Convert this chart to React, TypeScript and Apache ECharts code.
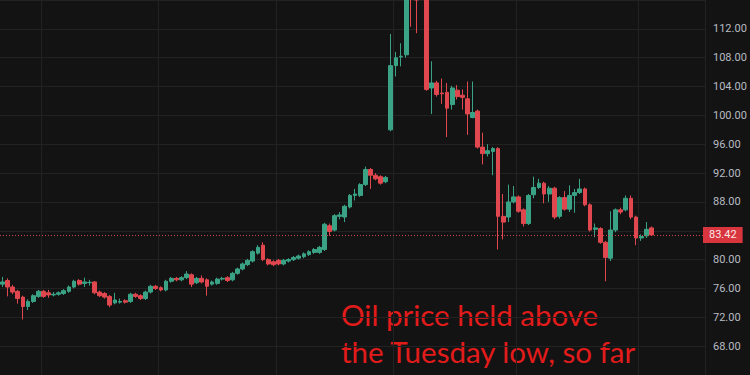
import { useEffect, useRef } from 'react';
import * as echarts from 'echarts';

// [open, close, low, high]
const ohlc: [number, number, number, number][] = [
  [76.6, 76.9, 76.2, 77.6], [77.1, 76.2, 74.9, 77.4], [76.2, 75.5, 75.2, 76.5], [75.6, 74.6, 73.9, 75.8],
  [74.8, 73.5, 71.7, 75.0], [73.5, 74.2, 73.0, 74.5], [74.2, 75.0, 74.0, 75.2], [74.9, 75.6, 74.7, 75.8],
  [75.6, 74.9, 74.7, 75.8], [75.4, 75.1, 74.7, 75.8], [75.1, 75.2, 74.9, 75.5], [75.2, 75.4, 75.0, 75.6],
  [75.3, 75.7, 75.1, 75.9], [75.6, 76.2, 75.4, 76.4], [76.2, 77.0, 76.0, 77.2], [77.1, 76.6, 76.4, 77.3],
  [76.7, 76.9, 76.2, 77.5], [76.8, 76.85, 76.4, 77.2], [76.9, 75.4, 75.2, 77.0], [75.5, 75.0, 74.8, 75.7],
  [75.3, 74.8, 74.6, 75.5], [74.9, 73.7, 73.4, 75.1], [74.0, 74.4, 73.8, 75.4], [74.1, 74.2, 73.9, 74.6],
  [74.3, 74.1, 73.9, 74.5],
  [74.2, 75.2, 74.0, 75.4], [75.2, 74.9, 74.7, 75.4], [75.0, 74.6, 74.4, 75.2], [74.6, 75.5, 74.4, 75.7],
  [75.5, 76.3, 75.3, 76.5], [76.3, 76.0, 75.8, 76.5], [76.1, 75.8, 75.6, 76.3], [75.8, 77.0, 75.6, 77.2],
  [77.0, 77.4, 76.8, 77.6], [77.4, 77.2, 77.0, 77.6], [77.2, 77.5, 77.0, 77.7], [77.5, 78.0, 77.3, 78.4],
  [77.9, 76.6, 76.2, 78.1], [76.8, 77.4, 76.6, 77.6], [77.4, 76.9, 76.7, 77.8], [77.2, 76.3, 75.0, 77.4],
  [76.6, 76.9, 76.4, 77.1], [76.7, 77.3, 76.5, 77.5], [77.3, 77.4, 77.1, 77.6], [77.5, 77.1, 76.9, 77.7],
  [77.2, 78.1, 77.0, 78.3], [78.1, 78.7, 77.9, 78.9], [78.7, 79.4, 78.5, 79.6], [79.3, 79.9, 79.1, 80.1],
  [79.8, 81.1, 79.6, 81.3], [80.9, 81.7, 80.7, 82.0], [82.0, 80.0, 79.8, 82.4], [80.0, 79.4, 79.2, 80.2],
  [79.7, 79.3, 79.1, 79.9], [79.9, 79.4, 79.2, 80.1], [79.4, 79.9, 79.2, 80.1], [79.8, 80.0, 79.6, 80.2],
  [80.0, 80.3, 79.8, 80.5], [80.2, 80.5, 80.0, 80.7], [80.4, 80.8, 80.2, 81.0], [80.7, 81.1, 80.5, 81.3],
  [81.0, 81.4, 80.8, 81.6], [81.0, 81.7, 80.8, 81.9], [81.4, 84.9, 81.2, 85.1], [84.7, 83.9, 83.3, 85.0],
  [84.1, 86.1, 83.9, 86.3], [86.0, 86.2, 85.6, 86.6], [85.9, 87.4, 85.2, 87.6], [87.3, 88.9, 87.1, 89.1],
  [88.9, 89.1, 88.2, 89.8], [88.9, 90.4, 88.7, 90.6], [90.4, 92.5, 90.2, 92.9], [92.5, 91.7, 89.8, 92.7],
  [91.7, 91.2, 91.0, 92.0], [91.5, 90.6, 90.4, 91.7], [90.8, 91.4, 90.6, 91.6],
  [98.0, 106.9, 97.8, 111.3], [106.9, 108.0, 105.4, 108.8], [108.1, 108.2, 106.8, 110.0], [108.4, 116.0, 108.0, 117.0],
  [121.0, 119.0, 112.3, 124.0], [118.0, 116.0, 111.4, 120.0], [122.0, 120.0, 117.0, 126.0], [117.0, 103.6, 103.4, 119.0],
  [103.8, 104.5, 100.2, 107.5], [104.5, 102.9, 102.6, 104.8], [103.1, 103.0, 101.6, 105.1], [103.2, 101.0, 97.0, 104.5],
  [101.5, 103.8, 100.8, 104.1], [103.5, 102.6, 102.2, 104.2], [102.8, 102.5, 100.8, 103.6], [102.3, 100.2, 97.3, 104.7],
  [99.7, 100.4, 99.6, 104.7], [100.6, 95.6, 95.4, 100.8], [95.6, 94.7, 93.2, 97.6], [94.7, 95.1, 94.3, 96.0],
  [95.0, 95.4, 91.7, 95.6], [95.4, 86.0, 81.4, 95.6], [86.0, 85.2, 82.8, 89.1], [85.9, 88.0, 85.2, 90.4],
  [88.0, 88.7, 87.8, 90.2], [88.7, 86.7, 86.5, 88.9], [86.9, 85.0, 84.6, 87.1], [85.0, 88.9, 84.8, 89.1],
  [89.0, 90.0, 88.5, 91.5], [90.0, 90.6, 89.8, 91.2], [90.6, 89.1, 87.8, 90.8], [89.1, 89.9, 88.0, 90.2],
  [89.9, 85.9, 85.6, 90.1], [86.0, 88.6, 85.7, 88.8], [88.6, 87.0, 86.8, 89.5], [87.0, 88.9, 86.6, 90.3],
  [88.9, 89.3, 86.5, 89.8], [89.3, 89.8, 89.1, 91.2], [89.8, 87.6, 87.4, 90.0], [87.6, 84.1, 83.9, 87.8],
  [84.2, 84.4, 83.1, 85.0], [84.3, 82.4, 82.2, 84.5], [82.4, 80.3, 77.0, 82.6], [80.2, 84.1, 79.8, 86.7],
  [84.1, 86.9, 83.8, 87.1], [86.9, 86.6, 86.3, 87.2], [86.9, 88.5, 86.7, 88.9], [88.5, 85.9, 85.6, 88.9],
  [85.9, 83.0, 82.0, 86.1], [83.0, 83.2, 82.6, 83.5], [83.3, 84.2, 83.0, 85.2], [84.4, 83.42, 83.3, 84.6],
];

const slotCount = 138;
const weekStarts = [8, 31, 54, 77, 101, 125];
const priceMin = 64;
const priceMax = 116;
const priceStep = 4;
const hiddenTicks = [64, 84, 116];
const lastPrice = 83.42;
const noteLines = ['Oil price held above', 'the Tuesday low, so far'];

const UP = '#3aa385';
const DOWN = '#e0474e';

export default function App() {
  const ref = useRef<HTMLDivElement>(null);
  useEffect(() => {
    const chart = echarts.init(ref.current!, undefined, { renderer: 'svg' });
    const categories = Array.from({ length: slotCount }, (_, i) => 'T' + i);
    chart.setOption({
      animation: false,
      backgroundColor: '#131313',
      grid: { left: 0, right: 45, top: -13.9, bottom: -10.4 },
      xAxis: {
        type: 'category',
        data: categories,
        boundaryGap: true,
        axisLine: { show: false },
        axisTick: { show: false },
        axisLabel: { show: false },
        splitLine: {
          show: true,
          interval: (i: number) => weekStarts.includes(i),
          lineStyle: { color: '#222222', width: 1 },
        },
      },
      yAxis: {
        type: 'value',
        position: 'right',
        min: priceMin,
        max: priceMax,
        interval: priceStep,
        axisLine: { show: false },
        axisTick: { show: false },
        axisLabel: {
          color: '#b8bbc2',
          fontSize: 11,
          fontFamily: 'Roboto',
          margin: 8,
          showMinLabel: false,
          showMaxLabel: false,
          formatter: (v: number) => (hiddenTicks.includes(v) ? '' : v.toFixed(2)),
        },
        splitLine: { lineStyle: { color: '#222222', width: 1 } },
      },
      series: [
        {
          type: 'candlestick',
          data: ohlc.map((d) => [d[0], d[1], d[2], d[3]]),
          barWidth: '84%',
          clip: true,
          itemStyle: {
            color: UP,
            color0: DOWN,
            borderColor: UP,
            borderColor0: DOWN,
            borderWidth: 1,
          },
          markLine: {
            silent: true,
            symbol: ['none', 'none'],
            data: [{ yAxis: lastPrice }],
            lineStyle: { color: DOWN, type: [1, 2], width: 1, opacity: 0.9 },
            label: {
              show: true,
              position: 'end',
              formatter: lastPrice.toFixed(2),
              color: '#ffffff',
              backgroundColor: '#ee3a44',
              padding: [3, 6, 2, 6],
              fontSize: 11,
              fontFamily: 'Roboto',
              distance: -2,
            },
          },
        },
      ],
      graphic: noteLines.map((t, k) => ({
        type: 'text',
        x: 341,
        y: 314 + 37 * k,
        silent: true,
        style: {
          text: t,
          fill: '#e21b1b',
          font: '29.5px Lato',
          verticalAlign: 'middle',
        },
      })),
    });
    return () => chart.dispose();
  }, []);
  return <div ref={ref} style={{ position: 'fixed', left: 0, top: 0, width: 750, height: 375 }} />;
}
